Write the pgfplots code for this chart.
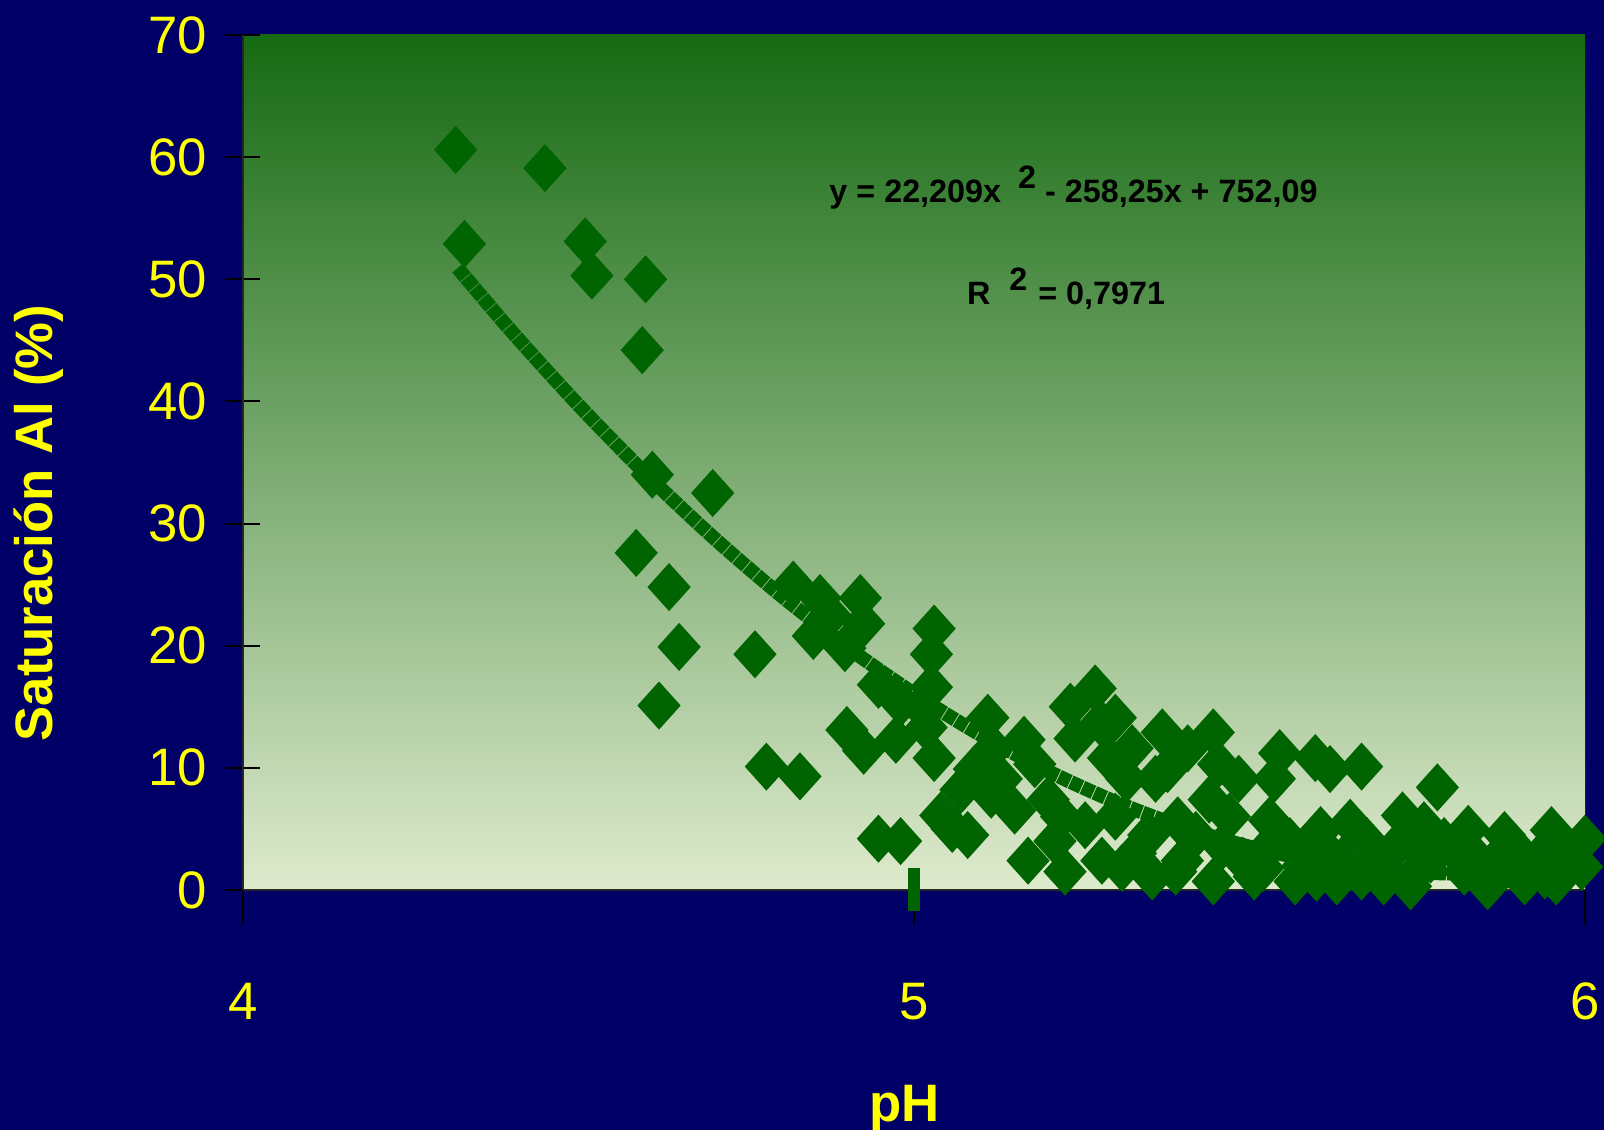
\documentclass[border=0pt]{standalone}
\usepackage{pgfplots}
\pgfplotsset{compat=1.18}
\usepackage{fontspec}
\setmainfont{Liberation Sans}
\definecolor{navy}{RGB}{0,0,102}
\definecolor{ptgreen}{RGB}{0,100,0}
\definecolor{bgtop}{RGB}{22,106,19}
\definecolor{bgbot}{RGB}{222,234,205}
\definecolor{yel}{RGB}{255,255,0}

\begin{document}
\begin{tikzpicture}
\fill[navy] (0mm,0mm) rectangle (160.4mm,113.0mm);
\useasboundingbox (0mm,0mm) rectangle (160.4mm,113.0mm);
\begin{axis}[
  at={(24.3mm,24.0mm)}, anchor=south west,
  scale only axis, width=134.2mm, height=85.5mm,
  xmin=4, xmax=6, ymin=0, ymax=70,
  xtick={4,5,6}, ytick={0,10,...,70},
  axis x line*=bottom, axis y line*=left,
  axis line style={-, black!85, line width=0.6pt},
  axis background/.style={top color=bgtop, bottom color=bgbot},
  tick align=center, major tick length=3.5mm,
  tick style={black, line width=0.6pt},
  xtick style={yshift=-1.75mm},
  /pgf/number format/assume math mode=true,
  ticklabel style={font=\fontsize{15}{18}\selectfont, text=yel},
  yticklabel style={anchor=east, xshift=-0.6mm},
  xticklabel style={anchor=center, yshift=-9.4mm},
  xlabel={pH}, ylabel={Saturación Al (\%)},
  label style={font=\bfseries\fontsize{15}{18}\selectfont, text=yel},
  xlabel style={at={(axis description cs:0.493,0)}, anchor=base, yshift=-23.2mm},
  ylabel style={at={(axis description cs:-0.1416,0.429)}, anchor=base},
  clip=false,
]
% trend line (polynomial fit)
\addplot[ptgreen, line width=4pt, dash pattern=on 3.4pt off 0.3pt, smooth] coordinates {
(4.32,50.92) (4.4,45.75) (4.5,39.70) (4.6,34.08) (4.7,28.91) (4.8,24.19)
(4.9,19.90) (5.0,16.07) (5.1,12.67) (5.2,9.72) (5.3,7.22) (5.4,5.16)
(5.5,3.54) (5.6,2.37) (5.7,1.64) (5.8,1.35) (5.9,1.51) (6.0,2.12)};
% small bar at pH 5
\addplot[ptgreen, line width=1.2mm] coordinates {(5,1.8) (5,-1.7)};
% data points
\addplot[only marks, mark=diamond*, mark size=2.3mm,
  mark options={ptgreen, xscale=1.2, rounded corners=0.4mm}] coordinates {
(4.317,60.6) (4.33,52.9) (4.45,59.1) (4.51,53.1) (4.52,50.3) (4.60,50.0)
(4.595,44.2) (4.61,34.0) (4.70,32.5) (4.586,27.6) (4.635,24.8) (4.65,19.9)
(4.62,15.1) (4.763,19.3) (4.78,10.1) (4.83,9.3) (4.82,25.0) (4.86,23.9)
(4.85,20.8) (4.875,22.5) (4.92,23.9) (4.925,21.8) (4.897,19.8) (4.90,13.1)
(4.925,11.4) (4.947,16.8) (4.973,12.3) (4.98,15.3) (4.947,4.2) (4.98,4.0)
(5.03,21.4) (5.026,19.3) (5.026,16.6) (5.01,15.0) (5.018,13.3) (5.03,10.8)
(5.04,6.1) (5.057,5.0) (5.08,4.5) (5.07,8.2) (5.09,9.9) (5.11,14.1)
(5.118,11.6) (5.106,9.1) (5.115,7.8) (5.13,9.1) (5.164,12.3) (5.18,10.3)
(5.17,2.4) (5.2,7.4) (5.21,4.0) (5.225,1.5) (5.233,15.0) (5.24,12.4)
(5.255,5.3) (5.27,16.5) (5.278,13.7) (5.30,14.1) (5.29,10.8) (5.28,2.4)
(5.317,9.1) (5.325,11.6) (5.35,4.5) (5.355,1.1) (5.37,12.9) (5.378,9.9)
(5.36,9.1) (5.408,11.6) (5.393,5.7) (5.40,2.4) (5.446,12.9) (5.454,10.3)
(5.44,7.4) (5.46,3.6) (5.446,0.7) (5.484,9.1) (5.49,2.4) (5.507,1.1)
(5.545,11.2) (5.537,9.1) (5.53,5.7) (5.56,4.0) (5.568,0.7) (5.598,10.8)
(5.62,9.9) (5.667,10.1) (5.606,4.9) (5.637,2.4) (5.63,0.7) (5.675,4.0)
(5.667,1.1) (5.713,3.2) (5.728,6.1) (5.76,5.3) (5.75,1.5) (5.78,8.4)
(5.79,4.0) (5.826,5.0) (5.82,1.5) (5.835,2.8) (5.88,4.5) (5.873,1.5)
(5.927,2.4) (5.95,4.9) (5.97,1.5) (6.0,4.2) (5.995,1.9) (5.957,0.7)
(5.70,0.7) (5.74,0.3) (5.855,0.3) (5.91,0.7)
(5.30,6.0) (5.33,3.0) (5.42,4.5) (5.47,6.0) (5.52,3.0) (5.58,2.0)
(5.61,3.5) (5.65,5.5) (5.69,2.5) (5.74,4.0) (5.81,3.0) (5.86,2.0)
(5.90,3.2) (5.94,1.2) (5.98,3.0) (5.15,6.5) (5.22,6.0) (5.31,1.8)
(5.39,1.5) (5.52,1.8) (5.60,1.0) (5.77,2.5)};
\node[anchor=base west, inner sep=0pt, font=\bfseries\fontsize{9.2}{11}\selectfont]
  at (axis cs:4.873,56.3)
  {y = 22,209x\hspace{1.7mm}\raisebox{1.4mm}{2}\hspace{0.9mm}- 258,25x + 752,09};
\node[anchor=base west, inner sep=0pt, font=\bfseries\fontsize{9.2}{11}\selectfont]
  at (axis cs:5.078,47.95)
  {R\hspace{1.9mm}\raisebox{1.4mm}{2}\hspace{1.1mm}= 0,7971};
\end{axis}
\end{tikzpicture}
\end{document}
